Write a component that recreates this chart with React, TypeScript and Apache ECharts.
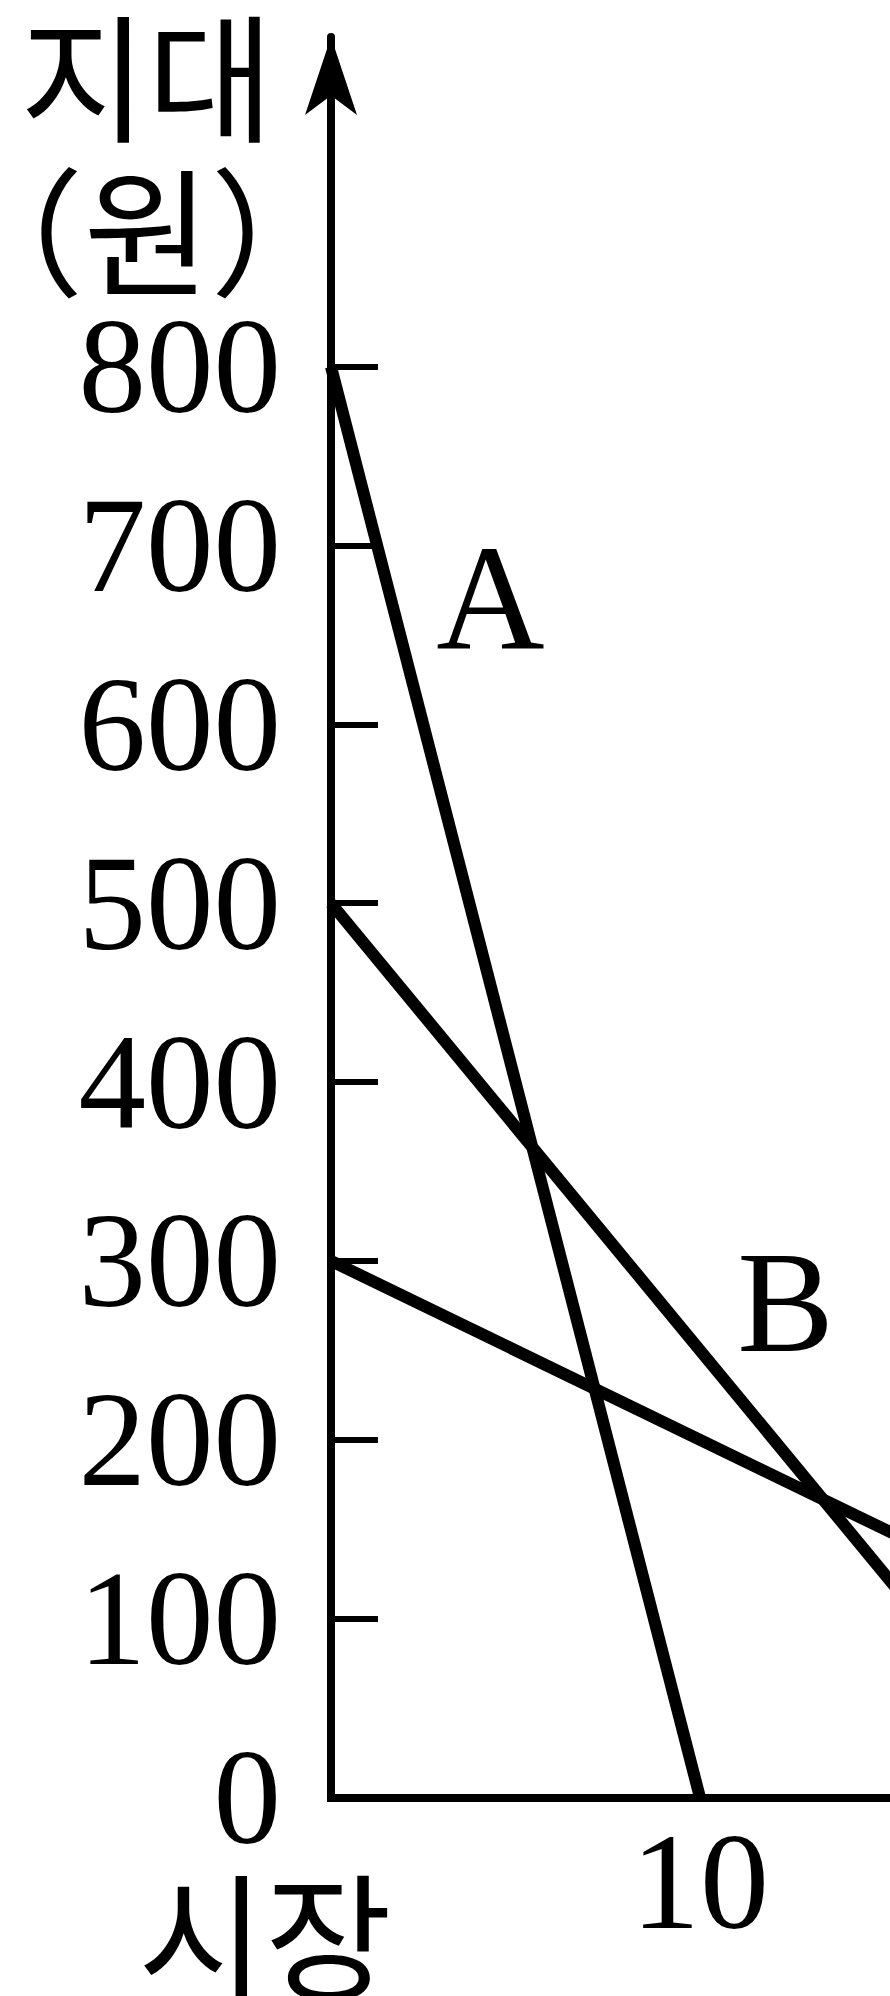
import React, { useEffect, useRef } from 'react';
import * as echarts from 'echarts';

// ---- data ----
const yTickValues = [0, 100, 200, 300, 400, 500, 600, 700, 800];
const xTickValues = [10];
const curveA = [[0, 800], [10, 0]];
const curveB = [[0, 500], [20, 0]];
const curveC = [[0, 300], [30, 0]];
const labelA = { name: 'A', coord: [4.32, 671] };
const labelB = { name: 'B', coord: [12.32, 277] };
const yName = '지대';
const yUnit = '（원）';
const xName = '시장';

const SERIF = '"Liberation Serif", "Times New Roman", serif';
const HANGUL = '"Noto Sans CJK KR", "Noto Sans CJK SC", sans-serif';

function markLabel(item: { name: string; coord: number[] }, size: number) {
  return {
    symbol: 'circle',
    symbolSize: 1,
    silent: true,
    itemStyle: { color: 'rgba(0,0,0,0)' },
    label: {
      show: true,
      position: 'inside',
      formatter: '{b}',
      fontSize: size,
      lineHeight: size * 0.75,
      fontFamily: SERIF,
      color: '#000',
    },
    data: [{ name: item.name, coord: item.coord }],
  };
}

function curve(name: string, data: number[][], mark?: any) {
  return {
    type: 'line',
    name,
    data,
    symbol: 'none',
    clip: true,
    silent: true,
    lineStyle: { color: '#000', width: 12 },
    markPoint: mark,
  };
}

export default function App() {
  const ref = useRef<HTMLDivElement>(null);
  useEffect(() => {
    document.body.style.margin = '0';
    document.body.style.overflow = 'hidden';
    if (!ref.current) return;
    const chart = echarts.init(ref.current, null, { renderer: 'svg' });
    const hText = (text: string, x: number, y: number, size: number, lh: number) => ({
      type: 'text',
      x,
      y,
      silent: true,
      style: {
        text,
        fontSize: size,
        lineHeight: lh,
        fontFamily: HANGUL,
        fill: '#000',
        textAlign: 'center',
        textVerticalAlign: 'middle',
        align: 'center',
        verticalAlign: 'middle',
      },
    });
    chart.setOption({
      animation: false,
      backgroundColor: '#fff',
      grid: {
        left: 331,
        right: 0,
        top: 37,
        bottom: 198.5,
        containLabel: false,
        outerBoundsMode: 'none',
      },
      xAxis: {
        type: 'value',
        min: 0,
        max: 15.15,
        splitLine: { show: false },
        axisTick: { show: false },
        axisLine: { show: true, onZero: false, lineStyle: { color: '#000', width: 8, cap: 'square' } },
        axisLabel: {
          customValues: xTickValues,
          fontSize: 138,
          lineHeight: 100,
          fontFamily: SERIF,
          color: '#000',
          margin: 84,
          verticalAlign: 'middle',
        },
      },
      yAxis: {
        type: 'value',
        min: 0,
        max: 984.3,
        splitLine: { show: false },
        axisLine: {
          show: true,
          onZero: false,
          symbol: ['none', 'arrow'],
          symbolSize: [39, 78],
          lineStyle: { color: '#000', width: 8 },
        },
        axisTick: {
          show: true,
          inside: true,
          length: 47,
          customValues: yTickValues,
          lineStyle: { color: '#000', width: 6 },
        },
        axisLabel: {
          customValues: yTickValues,
          fontSize: 135,
          lineHeight: 100,
          padding: [10, 0, 0, 0],
          fontFamily: SERIF,
          color: '#000',
          margin: 50,
          verticalAlign: 'middle',
        },
      },
      graphic: [
        hText(yName + '\n' + yUnit, 147, 148, 138, 154),
        hText(xName, 265, 1930, 138, 120),
      ],
      series: [
        curve('A', curveA, markLabel(labelA, 150)),
        curve('B', curveB, markLabel(labelB, 145)),
        curve('C', curveC),
      ],
    });
    return () => chart.dispose();
  }, []);
  return <div ref={ref} style={{ width: 890, height: 1996 }} />;
}
